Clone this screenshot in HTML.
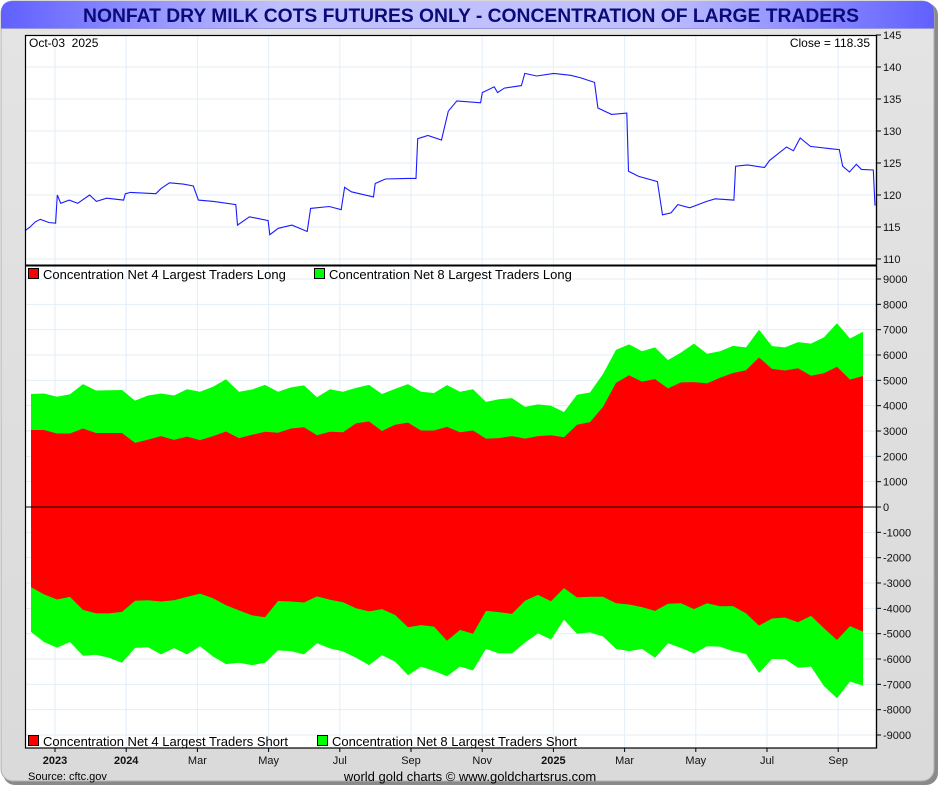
<!DOCTYPE html>
<html><head><meta charset="utf-8">
<style>
html,body{margin:0;padding:0;background:#fff;}
body{width:940px;height:787px;overflow:hidden;font-family:"Liberation Sans",sans-serif;}
</style></head>
<body>
<svg id="chart" width="940" height="787" xmlns="http://www.w3.org/2000/svg" font-family="Liberation Sans, sans-serif">
<defs>
<linearGradient id="frameG" x1="0" y1="0" x2="0" y2="1">
<stop offset="0" stop-color="#e4e4e4"/><stop offset="1" stop-color="#dadada"/></linearGradient>
<linearGradient id="titleG" x1="0" y1="0" x2="1" y2="0">
<stop offset="0" stop-color="#6060ff"/><stop offset="0.3" stop-color="#c0c0ff"/><stop offset="0.7" stop-color="#c0c0ff"/><stop offset="1" stop-color="#6060ff"/></linearGradient>
</defs>
<rect x="3" y="3" width="935" height="782" rx="12" fill="#8a8a8a"/>
<rect x="1" y="1" width="933" height="780" rx="12" fill="url(#frameG)" stroke="#b0b0b0"/>
<path d="M1 13 Q1 1 13 1 L922 1 Q934 1 934 13 L934 28 L1 28 Z" fill="url(#titleG)"/>
<line x1="1" y1="28.5" x2="934" y2="28.5" stroke="#9a9ad8"/>
<text x="471" y="22" text-anchor="middle" font-size="19.3" font-weight="bold" fill="#0a0a78">NONFAT DRY MILK COTS FUTURES ONLY - CONCENTRATION OF LARGE TRADERS</text>
<rect x="25" y="35" width="851" height="713" fill="#fff"/>
<g id="grid"></g>
<g id="lower"></g>
<g id="upper"></g>
<rect x="25.5" y="35.5" width="851" height="712.5" fill="none" stroke="#000" stroke-width="1.2"/>
<line x1="25" y1="265.5" x2="876" y2="265.5" stroke="#000" stroke-width="2"/>
<g id="axes" font-size="11" fill="#111"></g>
<text x="29" y="47" font-size="12">Oct-03&#160;&#160;2025</text>
<text x="870" y="47" font-size="12" text-anchor="end">Close = 118.35</text>
<g font-size="13">
<rect x="28.5" y="268.5" width="10" height="10" fill="#f00" stroke="#000"/>
<text x="43" y="279">Concentration Net 4 Largest Traders Long</text>
<rect x="314.5" y="268.5" width="10" height="10" fill="#0f0" stroke="#000"/>
<text x="329" y="279">Concentration Net 8 Largest Traders Long</text>
</g>
<g font-size="13">
<rect x="28.5" y="735.5" width="10" height="10" fill="#f00" stroke="#000"/>
<text x="43" y="746">Concentration Net 4 Largest Traders Short</text>
<rect x="317.5" y="735.5" width="10" height="10" fill="#0f0" stroke="#000"/>
<text x="332" y="746">Concentration Net 8 Largest Traders Short</text>
</g>
<text x="28" y="780" font-size="11">Source: cftc.gov</text>
<text x="470" y="781" font-size="13" text-anchor="middle">world gold charts © www.goldchartsrus.com</text>
</svg>
<script>
// ---- data ----
const xLabels = ["2023","2024","Mar","May","Jul","Sep","Nov","2025","Mar","May","Jul","Sep"];
const xLabelBold = [true,true,false,false,false,false,false,true,false,false,false,false];
const priceTicks = [110,115,120,125,130,135,140,145];
const concTicks = [-9000,-8000,-7000,-6000,-5000,-4000,-3000,-2000,-1000,0,1000,2000,3000,4000,5000,6000,7000,8000,9000];
const long4 = [3040,3040,2900,2900,3100,2920,2920,2920,2530,2660,2800,2650,2780,2640,2800,2980,2720,2850,2970,2930,3100,3150,2830,2970,2950,3300,3380,3000,3250,3330,3020,3020,3160,2950,3020,2700,2720,2800,2700,2800,2830,2750,3250,3350,3950,4900,5200,4950,5050,4680,4920,4930,4880,5100,5290,5400,5900,5450,5390,5480,5180,5280,5540,5030,5170];
const long8 = [4460,4480,4350,4450,4850,4600,4610,4620,4200,4400,4480,4400,4650,4550,4750,5040,4550,4640,4820,4550,4720,4800,4330,4650,4550,4700,4820,4460,4660,4850,4550,4500,4810,4550,4650,4150,4250,4300,3950,4050,4000,3750,4430,4520,5250,6200,6420,6150,6300,5800,6100,6450,6050,6150,6360,6300,7000,6350,6300,6510,6450,6700,7250,6650,6920];
const short4 = [-3160,-3450,-3650,-3550,-4060,-4200,-4200,-4140,-3700,-3680,-3730,-3680,-3550,-3420,-3600,-3880,-4080,-4280,-4350,-3710,-3730,-3770,-3530,-3660,-3760,-4000,-4120,-4030,-4260,-4750,-4660,-4720,-5280,-4850,-5000,-4100,-4150,-4220,-3700,-3470,-3720,-3200,-3570,-3540,-3540,-3800,-3850,-3950,-4100,-3820,-3800,-4030,-3800,-3920,-3910,-4200,-4680,-4400,-4360,-4550,-4300,-4790,-5250,-4700,-4920];
const short8 = [-4930,-5330,-5550,-5330,-5870,-5830,-5950,-6150,-5560,-5540,-5820,-5570,-5820,-5500,-5900,-6200,-6150,-6240,-6150,-5660,-5690,-5820,-5380,-5580,-5700,-5950,-6240,-5850,-6100,-6640,-6300,-6470,-6680,-6300,-6450,-5600,-5780,-5780,-5350,-4990,-5230,-4450,-5000,-4950,-5110,-5600,-5690,-5600,-5950,-5380,-5560,-5780,-5500,-5510,-5690,-5800,-6550,-6000,-6000,-6340,-6300,-7070,-7550,-6890,-7050];
const priceDay = [0,3,6,9,14,18,19,21,26,31,38,42,48,58,59,62,77,80,85,93,99,102,111,124,125,132,143,144,149,157,166,168,179,186,188,192,205,206,212,225,230,231,237,245,249,254,268,269,276,278,282,292,294,301,311,321,327,335,337,345,354,355,361,372,375,380,384,391,401,406,417,418,425,435,438,448,452,456,462,475,479,481,485,489,492,499,500];
const priceVal = [114.4,115.0,115.8,116.2,115.7,115.6,120.0,118.7,119.2,118.7,120.0,119.0,119.5,119.2,120.2,120.4,120.2,121.0,121.9,121.7,121.4,119.2,119.0,118.5,115.3,116.6,116.0,113.8,114.8,115.3,114.3,117.9,118.2,117.7,121.2,120.5,119.7,121.8,122.5,122.6,122.6,128.8,129.3,128.6,133.1,134.7,134.4,136.0,136.9,136.0,136.7,137.1,139.0,138.6,139.0,138.7,138.3,137.6,133.6,132.6,132.8,123.7,122.9,122.1,116.9,117.2,118.5,118.0,119.0,119.4,119.2,124.5,124.7,124.3,125.4,127.5,126.9,128.9,127.6,127.2,127.1,124.5,123.6,124.8,124.0,123.9,118.35];

// ---- scales ----
const NS='http://www.w3.org/2000/svg';
const PL=25, PR=876;
const yPrice = v => 35 + (145 - v) * 6.4;
const yConc = v => 507 - v * (228 / 9000);
const xWeek = i => 31 + i * (832 / (long4.length - 1));
const xDay = d => 25 + d * (850 / 500);
const xLab = i => 55 + i * 71.2;
function mk(tag, attrs, parent){const e=document.createElementNS(NS,tag);for(const k in attrs)e.setAttribute(k,attrs[k]);parent.appendChild(e);return e;}

const grid=document.getElementById('grid');
const axes=document.getElementById('axes');
xLabels.forEach((t,i)=>{
  const x=xLab(i);
  const gl=mk('line',{x1:x,x2:x,y1:35,y2:748,stroke:'#e3eef7','stroke-width':1},grid);
  
  
  mk('line',{x1:x,x2:x,y1:748,y2:752,stroke:'#000'},axes);
  const tx=mk('text',{x:x,y:764,'text-anchor':'middle','font-weight':xLabelBold[i]?'bold':'normal'},axes);
  tx.textContent=t;
  
  
});
priceTicks.forEach(v=>{
  const y=yPrice(v);
  if(v<145){const gl=mk('line',{x1:PL,x2:PR,y1:y,y2:y,stroke:'#e3eef7'},grid);
  
  }
  mk('line',{x1:PR,x2:PR+5,y1:y,y2:y,stroke:'#000'},axes);
  const tx=mk('text',{x:883,y:y+4},axes);
  tx.textContent=v;
  
  
});
concTicks.forEach(v=>{
  const y=yConc(v);
  const gl=mk('line',{x1:PL,x2:PR,y1:y,y2:y,stroke:'#e3eef7'},grid);
  
  
  mk('line',{x1:PR,x2:PR+5,y1:y,y2:y,stroke:'#000'},axes);
  const tx=mk('text',{x:883,y:y+4},axes);
  tx.textContent=v;
  
  
});
mk('line',{x1:PR+0.5,x2:PR+0.5,y1:35,y2:748,stroke:'#000','stroke-width':1.2},axes);

// ---- areas ----
const lower=document.getElementById('lower');
function area(vals,name,fill){
  let d='M'+xWeek(0)+' '+yConc(0);
  vals.forEach((v,i)=>{d+=' L'+xWeek(i).toFixed(1)+' '+yConc(v).toFixed(1);});
  d+=' L'+xWeek(vals.length-1)+' '+yConc(0)+' Z';
  const p=mk('path',{d:d,fill:fill},lower);
  
  
}
area(long8,'area-net8-long','#00ff00');
area(short8,'area-net8-short','#00ff00');
area(long4,'area-net4-long','#ff0000');
area(short4,'area-net4-short','#ff0000');
const zl=mk('line',{x1:PL,x2:PR,y1:yConc(0),y2:yConc(0),stroke:'#000','stroke-width':1},lower);



// ---- price line ----
const upper=document.getElementById('upper');
const pts=priceDay.map((d,i)=>xDay(d).toFixed(1)+','+yPrice(priceVal[i]).toFixed(1)).join(' ');
const pl=mk('polyline',{points:pts,fill:'none',stroke:'#1a1aff','stroke-width':1.1},upper);


</script>
</body></html>
